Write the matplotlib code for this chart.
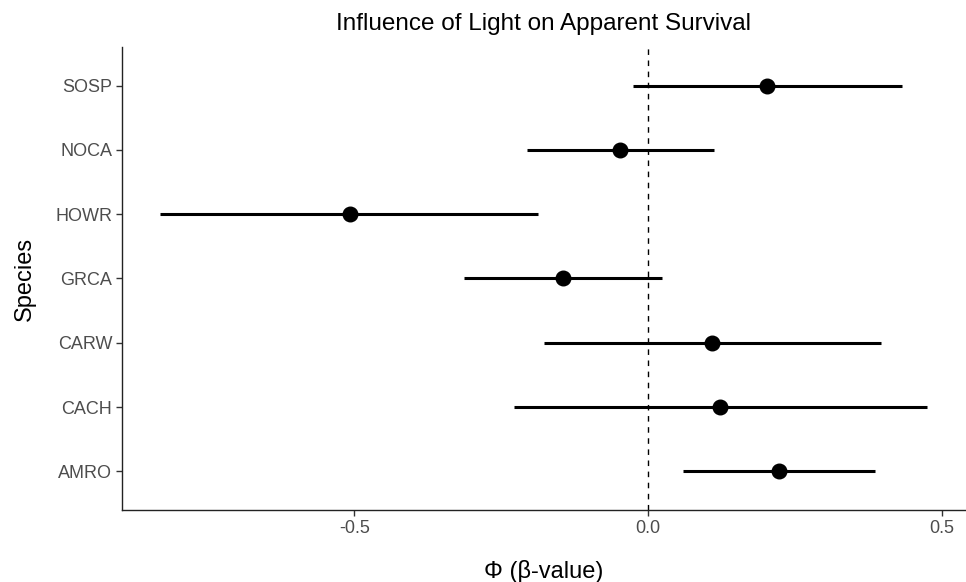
import matplotlib
matplotlib.use("Agg")
import matplotlib.pyplot as plt

species = ["AMRO", "CACH", "CARW", "GRCA", "HOWR", "NOCA", "SOSP"]
estimate = [0.223, 0.122, 0.109, -0.145, -0.508, -0.048, 0.202]
lower = [0.060, -0.228, -0.177, -0.313, -0.830, -0.206, -0.026]
upper = [0.386, 0.474, 0.396, 0.024, -0.187, 0.112, 0.432]
xticks = [-0.5, 0.0, 0.5]
xtick_labels = ["-0.5", "0.0", "0.5"]

plt.rcParams['font.family'] = ['Liberation Sans', 'DejaVu Sans']

fig = plt.figure(figsize=(9.66, 5.82), dpi=100)
ax = fig.add_axes([122/966, 1 - 510/582, (965-122)/966, (510-47)/582])

ypos = list(range(1, len(species) + 1))
ax.hlines(ypos, lower, upper, color="black", linewidth=2.2, zorder=2)
ax.scatter(estimate, ypos, s=110, color="black", zorder=3)
ax.axvline(0, color="black", linestyle=(0, (4, 4)), linewidth=1.0, zorder=1)

xmin, xmax = min(lower), max(upper)
pad = (xmax - xmin) * 0.05
ax.set_xlim(xmin - pad, xmax + pad)
ax.set_ylim(0.4, len(species) + 0.6)
ax.set_yticks(ypos)
ax.set_yticklabels(species)
ax.set_xticks(xticks)
ax.set_xticklabels(xtick_labels)

for s in ["top", "right"]:
    ax.spines[s].set_visible(False)
for s in ["left", "bottom"]:
    ax.spines[s].set_linewidth(1.0)
    ax.spines[s].set_color("#222222")
ax.tick_params(axis="both", length=4, width=1.0, color="#333333",
               labelsize=13, labelcolor="#4d4d4d", pad=3)

ax.set_title("Influence of Light on Apparent Survival", fontsize=17.5, pad=12)
ax.set_xlabel("\u03a6 (\u03b2-value)", fontsize=17, labelpad=17)
ax.set_ylabel("Species", fontsize=17, labelpad=14)

fig.savefig("out.png", dpi=100)
